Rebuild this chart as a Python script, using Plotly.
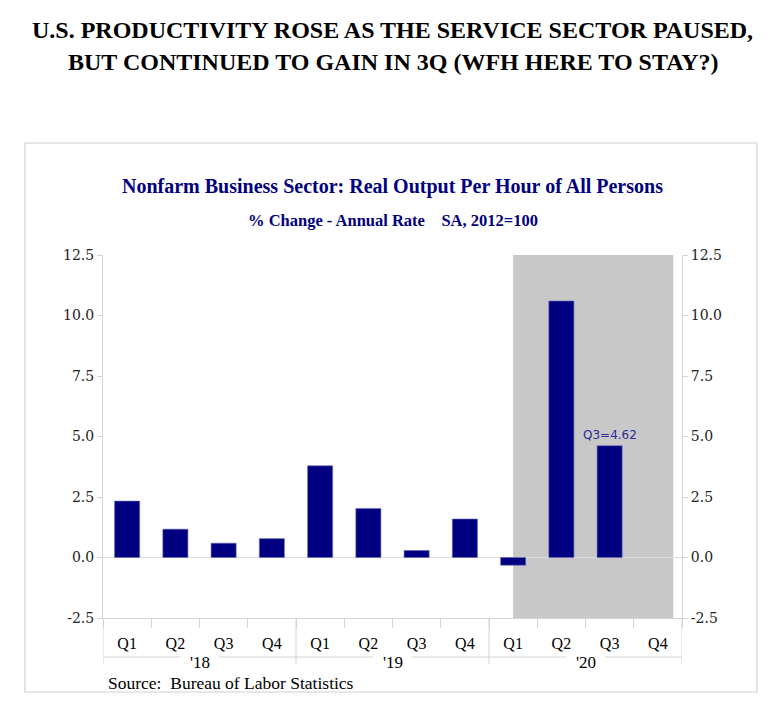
import plotly.graph_objects as go

# ── data ──────────────────────────────────────────────────────────────────────
years = ["'18", "'19", "'20"]
quarters = ["Q1", "Q2", "Q3", "Q4"]
periods = [f"{q} {y}" for y in years for q in quarters]
productivity = [2.33, 1.17, 0.59, 0.78, 3.79, 2.02, 0.29, 1.59, -0.32, 10.6, 4.62, None]

y_ticks = [-2.5, 0, 2.5, 5, 7.5, 10, 12.5]
y_ticktext = ['-2.5', '0.0', '2.5', '5.0', '7.5', '10.0', '12.5']

shade_start, shade_end = 8.0, 11.32      # grey band (2020) in category-index units
label_idx, label_text = 10, 'Q3=4.62'

NAVY = '#000080'
GRID = '#d4d4d4'

# ── geometry helpers (page pixel -> paper) ────────────────────────────────────
OFF = 8                      # page body margin
PAGE_W, PAGE_H = 782, 710
W, H = PAGE_W - OFF, PAGE_H - OFF
L, R, T, B = 103, 682, 255, 618   # plot area, page pixels


def px_x(px):
    return (px - L) / (R - L)


def px_y(py):
    return (B - py) / (B - T)


fig = go.Figure()

fig.add_trace(go.Bar(
    x=periods,
    y=productivity,
    width=0.52,
    marker=dict(color=NAVY, line=dict(color='#6a6ab8', width=0.6)),
    showlegend=False,
    hoverinfo='x+y',
))
# invisible copy so the right-hand axis is drawn
fig.add_trace(go.Scatter(
    x=periods, y=productivity, yaxis='y2', mode='markers',
    marker=dict(opacity=0), showlegend=False, hoverinfo='skip',
))

shapes = [
    # chart frame
    dict(type='rect', xref='paper', yref='paper',
         x0=px_x(25), x1=px_x(757), y0=px_y(692), y1=px_y(143),
         line=dict(color='#d0d0d0', width=1.2), fillcolor='rgba(0,0,0,0)', layer='below'),
    # 2020 shading
    dict(type='rect', xref='x', yref='paper', x0=shade_start, x1=shade_end, y0=0, y1=1,
         fillcolor='#c8c8c8', line=dict(width=0), layer='below'),
]

# year separators + horizontal rules around the year labels
for i, yr in enumerate(years):
    left = i * 4 - 0.5
    right = left + 4
    mid = left + 2
    shapes.append(dict(type='line', xref='x', yref='paper', x0=left, x1=left,
                       y0=0, y1=px_y(664), line=dict(color=GRID, width=1)))
    for a, b in [(left, mid - 0.4), (mid + 0.4, right)]:
        shapes.append(dict(type='line', xref='x', yref='paper', x0=a, x1=b,
                           y0=px_y(657), y1=px_y(657), line=dict(color=GRID, width=1)))
shapes.append(dict(type='line', xref='x', yref='paper', x0=11.5, x1=11.5,
                   y0=0, y1=px_y(664), line=dict(color=GRID, width=1)))

annotations = [
    dict(text='<b>U.S. PRODUCTIVITY ROSE AS THE SERVICE SECTOR PAUSED,</b>',
         x=px_x(392), y=px_y(30), font=dict(size=24, color='black', family='Liberation Serif')),
    dict(text='<b>BUT CONTINUED TO GAIN IN 3Q (WFH HERE TO STAY?)</b>',
         x=px_x(393), y=px_y(62), font=dict(size=24, color='black', family='Liberation Serif')),
    dict(text='<b>Nonfarm Business Sector: Real Output Per Hour of All Persons</b>',
         x=px_x(392), y=px_y(186), font=dict(size=20, color=NAVY, family='Liberation Serif')),
    dict(text='<b>% Change - Annual Rate&nbsp;&nbsp;&nbsp;&nbsp;SA, 2012=100</b>',
         x=px_x(393), y=px_y(221), font=dict(size=16.5, color=NAVY, family='Liberation Serif')),
    dict(text='Source:&nbsp;&nbsp;Bureau of Labor Statistics', xanchor='left',
         x=px_x(106), y=px_y(683), font=dict(size=17.5, color='black', family='Liberation Serif')),
]
for a in annotations:
    a.setdefault('xanchor', 'center')
    a.update(xref='paper', yref='paper', yanchor='middle', showarrow=False)

for i, yr in enumerate(years):
    annotations.append(dict(text=yr, xref='x', yref='paper', x=i * 4 + 1.5, y=px_y(662),
                            showarrow=False, xanchor='center', yanchor='middle',
                            font=dict(size=17, color='black', family='Liberation Serif')))

annotations.append(dict(text=label_text, xref='x', yref='y', x=periods[label_idx],
                        y=productivity[label_idx], yanchor='bottom', yshift=2, showarrow=False,
                        font=dict(size=12, color='#2a2a9a', family='DejaVu Sans')))

yaxis_common = dict(
    range=[-2.5, 12.5],
    tickvals=y_ticks,
    ticktext=y_ticktext,
    showgrid=False,
    zeroline=False,
    showline=True, linecolor=GRID, linewidth=1,
    ticks='outside', ticklen=5, tickcolor=GRID,
    tickfont=dict(size=14, color='#222222', family='DejaVu Serif'),
    fixedrange=True,
)

fig.update_layout(
    width=W, height=H,
    margin=dict(l=L - OFF, r=PAGE_W - R, t=T - OFF, b=PAGE_H - B, pad=0),
    paper_bgcolor='white', plot_bgcolor='white',
    shapes=shapes,
    annotations=annotations,
    xaxis=dict(
        type='category',
        tickvals=periods,
        ticktext=quarters * len(years),
        tickson='boundaries',
        ticks='outside', ticklen=9, tickcolor=GRID,
        showline=True, linecolor=GRID, linewidth=1,
        showgrid=False,
        tickfont=dict(size=16, color='black', family='Liberation Serif'),
        ticklabelstandoff=11,
        range=[-0.5, 11.5],
        fixedrange=True,
    ),
    yaxis=dict(**yaxis_common, side='left'),
    yaxis2=dict(**yaxis_common, side='right', overlaying='y', matches='y'),
)

# zero line drawn over the shading
fig.add_shape(type='line', xref='paper', yref='y', x0=0, x1=1, y0=0, y1=0,
              line=dict(color='#dcdcdc', width=1.2), layer='below')

fig.write_html("out.html")
